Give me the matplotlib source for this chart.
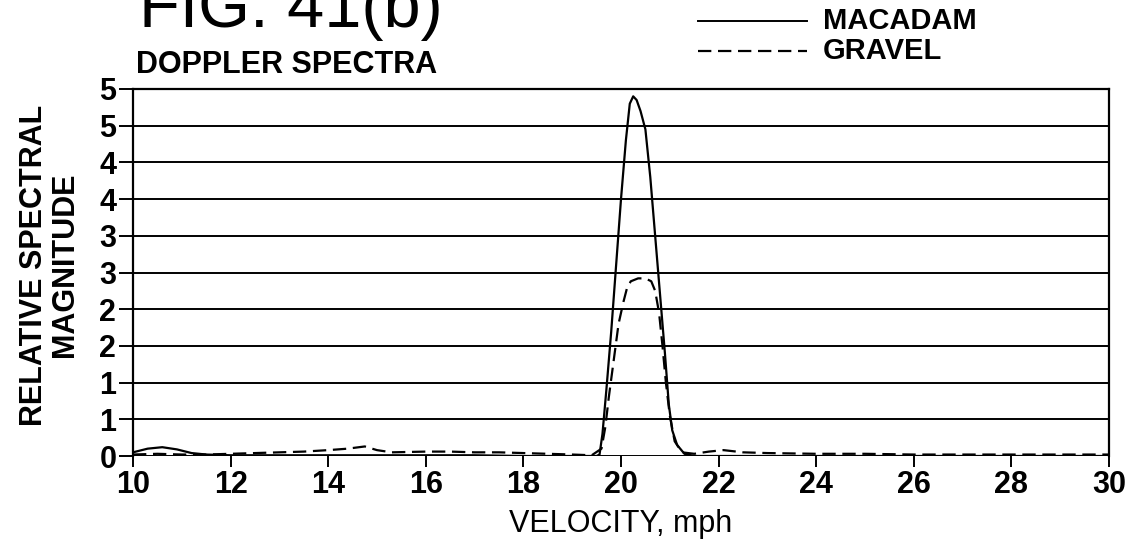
import matplotlib
matplotlib.use("Agg")
import matplotlib.pyplot as plt
from matplotlib.lines import Line2D
from matplotlib.ticker import FixedLocator, FixedFormatter

plt.rcParams['font.family'] = ['Liberation Sans', 'DejaVu Sans']

# Doppler spectra
macadam_v = [10.0, 10.3, 10.6, 10.9, 11.2, 11.5, 12.0, 13.0, 14.0, 15.0, 16.0, 17.0,
             18.0, 19.0, 19.5, 19.56, 19.62, 19.7, 19.8, 19.9, 20.0, 20.1, 20.18,
             20.25, 20.32, 20.4, 20.5, 20.6, 20.7, 20.8, 20.9, 20.98, 21.05, 21.15,
             21.3, 21.5, 22.0, 24.0, 26.0, 28.0, 30.0]
macadam_mag = [0.05, 0.10, 0.12, 0.09, 0.04, 0.02, 0.01, 0.01, 0.01, 0.01, 0.01, 0.01,
               0.0, 0.0, 0.0, 0.02, 0.3, 0.9, 1.7, 2.6, 3.5, 4.3, 4.8,
               4.9, 4.85, 4.7, 4.45, 3.8, 3.0, 2.2, 1.4, 0.7, 0.35, 0.15,
               0.03, 0.0, 0.0, 0.0, 0.0, 0.0, 0.0]

gravel_v = [10.0, 10.5, 11.0, 11.5, 12.0, 12.5, 13.0, 13.5, 14.0, 14.4, 14.75, 15.0,
            15.3, 16.0, 16.5, 17.0, 17.5, 18.0, 18.5, 19.0, 19.4, 19.6, 19.68,
            19.75, 19.85, 19.95, 20.05, 20.12, 20.2, 20.35, 20.5, 20.62, 20.7,
            20.78, 20.85, 20.92, 21.0, 21.1, 21.25, 21.5, 21.8, 22.1, 22.5, 23.0,
            24.0, 25.0, 26.0, 27.0, 28.0, 29.0, 30.0]
gravel_mag = [0.02, 0.03, 0.02, 0.02, 0.03, 0.04, 0.05, 0.06, 0.08, 0.10, 0.13, 0.08,
              0.05, 0.06, 0.06, 0.05, 0.05, 0.04, 0.03, 0.02, 0.01, 0.1, 0.4,
              0.8, 1.3, 1.8, 2.1, 2.28, 2.38, 2.42, 2.42, 2.38, 2.25,
              1.95, 1.5, 1.0, 0.55, 0.2, 0.05, 0.03, 0.06, 0.08, 0.05, 0.04,
              0.03, 0.03, 0.02, 0.02, 0.02, 0.02, 0.02]

x_ticks = [10, 12, 14, 16, 18, 20, 22, 24, 26, 28, 30]
y_ticks = [0, 0.5, 1, 1.5, 2, 2.5, 3, 3.5, 4, 4.5, 5]
y_tick_labels = ['0', '1', '1', '2', '2', '3', '3', '4', '4', '5', '5']

W, H = 1134, 550
fig = plt.figure(figsize=(W / 100, H / 100), dpi=100)
ax = fig.add_axes([133 / W, 1 - 456 / H, (1109 - 133) / W, (456 - 89) / H])

# horizontal grid
for yv in y_ticks:
    ax.axhline(yv, color='black', lw=1.4, zorder=1)

ax.plot(macadam_v, macadam_mag, color='black', lw=1.6, zorder=3)
ax.plot(gravel_v, gravel_mag, color='black', lw=1.6, dashes=(6, 3), zorder=3)

ax.set_xlim(10, 30)
ax.set_ylim(0, 5)
ax.xaxis.set_major_locator(FixedLocator(x_ticks))
ax.yaxis.set_major_locator(FixedLocator(y_ticks))
ax.yaxis.set_major_formatter(FixedFormatter(y_tick_labels))
ax.tick_params(axis='both', direction='out', width=1.4, colors='black', labelsize=22)
ax.tick_params(axis='x', length=8, pad=2)
ax.tick_params(axis='y', length=10, pad=2)
for lab in ax.get_xticklabels() + ax.get_yticklabels():
    lab.set_fontweight('bold')

for side in ['left', 'right', 'top']:
    ax.spines[side].set_linewidth(1.6)
ax.spines['bottom'].set_visible(False)

ax.set_xlabel('VELOCITY, mph', fontsize=22)
ax.xaxis.set_label_coords(0.5, (456 - 509) / 367)
ax.set_ylabel('RELATIVE SPECTRAL\nMAGNITUDE', fontsize=22, fontweight='bold',
              linespacing=1.05)
ax.yaxis.set_label_coords((80 - 133) / 976, 0.52)

# title block
fig.text(139 / W, 1 - 27 / H, 'FIG. 41(b)', fontsize=48, va='baseline')
fig.text(136 / W, 1 - 73 / H, 'DOPPLER SPECTRA', fontsize=22, fontweight='bold',
         va='baseline')

# legend drawn by hand above the plot
fig.add_artist(Line2D([698 / W, 807 / W], [1 - 21 / H] * 2, color='black', lw=1.4))
fig.add_artist(Line2D([698 / W, 807 / W], [1 - 51 / H] * 2, color='black', lw=1.6,
                      dashes=(6, 3)))
fig.text(823 / W, 1 - 21 / H, 'MACADAM', fontsize=21, fontweight='bold', va='center')
fig.text(823 / W, 1 - 51 / H, 'GRAVEL', fontsize=21, fontweight='bold', va='center')

fig.savefig('out.png', dpi=100)
